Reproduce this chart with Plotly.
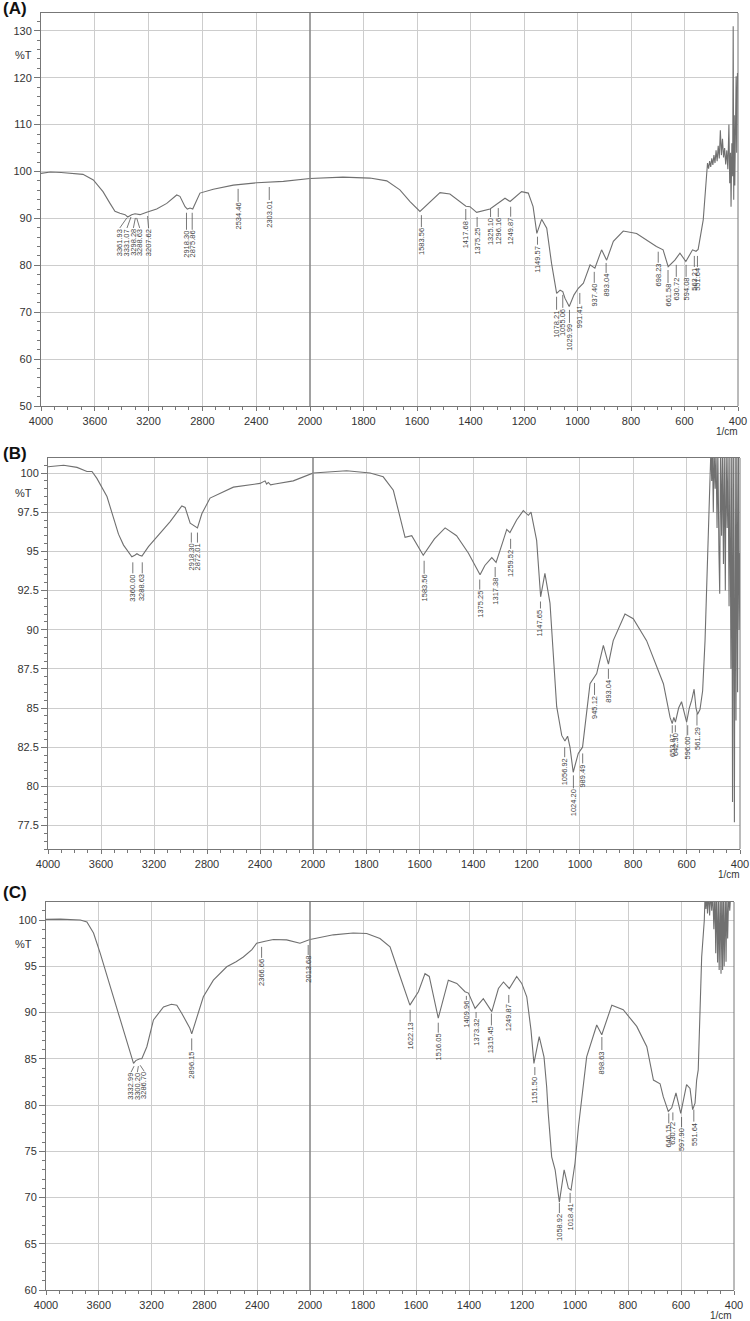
import plotly.graph_objects as go

# ---------------- spectra (wavenumber in 1/cm, %T) ----------------
A_wn = [4000, 3930, 3850, 3760, 3688, 3611, 3539, 3487, 3450, 3413, 3375, 3355, 3326, 3301, 3264,
        3214, 3140, 3065, 2991, 2967, 2929, 2912, 2892, 2872, 2848, 2818, 2719, 2570, 2396, 2198, 2000,
        1877, 1776, 1713, 1664, 1626, 1589, 1558, 1514, 1477, 1427, 1417, 1402, 1377, 1327, 1296, 1271,
        1252, 1209, 1184, 1166, 1152, 1134, 1115, 1097, 1078, 1065, 1055, 1047, 1031, 1013, 997, 978,
        953, 935, 910, 891, 866, 829, 779, 705, 680, 661, 636, 617, 595, 570, 557, 549, 530, 522, 518,
        514, 510, 506, 502, 498, 494, 490, 486, 482, 478, 474, 470, 466, 462, 458, 454, 450, 446, 442,
        438, 434, 431, 428, 426, 423, 420, 418, 416, 414, 412, 410, 407, 405, 402, 400]
A_T = [99.6, 99.9, 99.8, 99.6, 99.4, 98.2, 95.7, 93.2, 91.5, 91.1, 90.8, 90.3, 90.8, 91.0, 90.8,
       91.3, 92.0, 93.2, 95.0, 94.7, 92.5, 92.0, 92.2, 92.0, 93.6, 95.4, 96.2, 97.1, 97.6, 97.9, 98.5,
       98.8, 98.6, 98.0, 96.1, 93.6, 91.5, 93.2, 95.5, 95.2, 92.9, 92.6, 92.5, 91.3, 92.0, 93.2, 94.3,
       93.6, 95.7, 95.4, 92.5, 86.8, 89.8, 87.9, 80.4, 74.0, 74.7, 74.4, 73.0, 71.2, 73.7, 75.1, 76.2,
       80.1, 79.4, 83.3, 81.1, 85.1, 87.3, 86.8, 84.0, 83.3, 79.7, 81.1, 82.6, 80.8, 83.3, 83.0, 83.4,
       89.7, 96.0, 100.3,
       101.8, 100.6, 102.2, 101.0, 102.8, 101.4, 103.5, 101.8, 104.5, 102.2, 105.5, 102.8, 108.8,
       103.5, 107.0, 103.0, 105.0, 101.5, 104.5, 100.5, 110.0, 97.5, 104.0, 92.5, 106.0, 99.0, 131.0,
       94.0, 112.0, 97.0, 109.0, 120.3, 104.0, 121.0, 120.0]

B_wn = [4000, 3882, 3781, 3706, 3668, 3631, 3555, 3505, 3468, 3430, 3367, 3345, 3329, 3310, 3291,
        3242, 3153, 3078, 2990, 2965, 2927, 2907, 2872, 2839, 2777, 2601, 2400, 2362, 2350, 2337,
        2320, 2287, 2149, 2000,
        1874, 1786, 1737, 1699, 1674, 1655, 1630, 1587, 1545, 1505, 1462, 1418, 1374, 1356, 1330,
        1314, 1287, 1274, 1262, 1237, 1212, 1193, 1183, 1162, 1147, 1131, 1112, 1102, 1087, 1068,
        1056, 1046, 1037, 1025, 1006, 990, 962, 937, 912, 893, 875, 831, 800, 750, 687, 662, 654,
        648, 642, 630, 619, 600, 590, 581, 572, 565, 559, 550, 540, 531, 525, 512,
        509, 506, 503, 500, 497, 493, 490, 486, 483, 479, 476, 473, 469, 466, 462, 459, 455, 452,
        448, 445, 441, 438, 434, 431, 428, 425, 421, 418, 415, 412, 409, 406, 403, 400]
B_T = [100.4, 100.5, 100.36, 100.1, 100.1, 99.66, 98.5, 97.2, 96.1, 95.4, 94.65, 94.75, 94.85, 94.75,
       94.7, 95.3, 96.2, 96.9, 97.9, 97.8, 96.8, 96.7, 96.5, 97.4, 98.4, 99.1, 99.34, 99.5, 99.3,
       99.4, 99.25, 99.3, 99.5, 100.0,
       100.15, 100.0, 99.76, 98.9, 97.2, 95.9, 96.0, 94.75, 95.8, 96.5, 96.0, 94.9, 93.5, 94.1, 94.6,
       94.3, 95.7, 96.4, 96.2, 97.0, 97.6, 97.3, 97.5, 95.7, 92.1, 93.6, 91.7, 88.9, 85.1, 83.25,
       82.9, 83.2, 82.5, 80.9, 82.1, 82.5, 86.55, 87.2, 89.0, 87.8, 89.3, 91.0, 90.7, 89.3, 86.55,
       84.4, 84.0, 84.4, 84.1, 85.0, 85.4, 84.1, 85.0, 85.5, 86.2, 85.0, 84.6, 84.9, 86.1, 89.3,
       92.9, 100.0,
       101.5, 99.5, 101.5, 97.5, 101.5, 99.0, 101.5, 96.5, 101.5, 95.0, 92.3, 101.5, 96.0, 101.5,
       94.2, 101.5, 92.5, 101.5, 96.5, 101.5, 91.5, 101.5, 87.5, 101.5, 79.0, 101.5, 77.7, 101.5,
       84.2, 101.5, 86.0, 101.5, 90.0, 94.9]

C_wn = [4000, 3892, 3740, 3690, 3640, 3589, 3513, 3438, 3387, 3355, 3337, 3320, 3307, 3290, 3274,
        3236, 3186, 3110, 3050, 3009, 2971, 2933, 2910, 2896, 2858, 2808, 2732, 2631, 2560, 2505,
        2440, 2404, 2340, 2278, 2177, 2076, 2000,
        1912, 1837, 1786, 1736, 1698, 1660, 1623, 1591, 1566, 1550, 1535, 1516, 1478, 1446, 1415,
        1402, 1377, 1346, 1314, 1289, 1270, 1248, 1220, 1201, 1182, 1166, 1155, 1135, 1117, 1107,
        1101, 1088, 1075, 1059, 1041, 1025, 1015, 1000, 987, 968, 956, 918, 899, 861, 818, 767, 729,
        704, 679, 667, 648, 635, 619, 601, 579, 566, 556, 547, 541, 535, 522, 512,
        509, 506, 503, 500, 496, 492, 488, 484, 480, 476, 472, 469, 466, 462, 459, 456, 452, 449,
        446, 443, 440, 437, 433, 430, 427, 424, 420, 416, 412, 400]
C_T = [100.07, 100.1, 100.0, 99.8, 98.6, 96.4, 92.8, 89.2, 86.7, 85.3, 84.5, 84.8, 84.9, 85.0, 85.0,
       86.3, 89.2, 90.6, 90.9, 90.8, 89.9, 88.8, 88.3, 87.7, 89.5, 91.7, 93.5, 94.95, 95.5, 96.0,
       96.8, 97.5, 97.7, 97.9, 97.85, 97.5, 97.9,
       98.4, 98.6, 98.55, 98.0, 97.1, 93.9, 90.8, 92.25, 94.2, 93.9, 92.0, 89.4, 93.5, 93.15, 92.25,
       92.1, 90.45, 91.5, 90.1, 92.6, 93.3, 92.6, 93.9, 93.15, 91.7, 88.1, 84.5, 87.4, 85.2, 82.0,
       79.1, 74.4, 73.0, 69.5, 73.0, 71.0, 70.8, 73.7, 77.65, 82.7, 85.2, 88.65, 87.6, 90.8, 90.3,
       88.5, 86.3, 82.7, 82.3, 80.9, 79.3, 79.7, 81.3, 79.1, 82.2, 81.8, 79.5, 80.2, 82.7, 83.8,
       96.0, 100.0,
       103, 101.2, 103, 100.7, 103, 100.5, 103, 101.0, 103, 99.0, 103, 96.4, 103, 95.4, 103, 94.6,
       103, 94.2, 103, 94.6, 103, 95.0, 103, 95.5, 103, 98.0, 103, 101.0, 103, 103]

# ---------------- peak picks ----------------
A_peaks = [3361.93, 3331.07, 3298.28, 3288.63, 3207.62, 2918.30, 2875.86, 2534.46, 2303.01,
           1583.56, 1417.68, 1375.25, 1325.10, 1296.16, 1249.87, 1149.57, 1078.21, 1055.06,
           1029.99, 991.41, 937.40, 893.04, 698.23, 661.58, 630.72, 594.08, 563.21, 551.64]
B_peaks = [3360.00, 3288.63, 2918.30, 2872.01, 1583.56, 1375.25, 1317.38, 1259.52, 1147.65,
           1056.92, 1024.20, 989.49, 945.12, 893.04, 653.87, 642.30, 596.00, 561.29]
C_peaks = [3332.99, 3300.20, 3286.70, 2896.15, 2366.66, 2013.68, 1622.13, 1516.05, 1409.96,
           1373.32, 1315.45, 1249.87, 1151.50, 1058.92, 1018.41, 898.63, 646.15, 630.72, 597.90,
           551.64]

# label placement: (%T at top of leader, leader length px, sideways offset px)
A_marks = [(90.1, 10, -7), (90.3, 11, -4), (90.1, 10, -2), (90.1, 10, 3), (90.5, 12, 1),
           (91.2, 17, 0), (91.2, 17, 0), (96.3, 13, 0), (96.7, 13, 0), (90.7, 12, 0),
           (92.0, 11, 0), (90.3, 10, 0), (92.0, 8, 0), (92.2, 9, 0), (92.5, 10, 0), (86.1, 8, 0),
           (73.3, 13, 0), (73.7, 13, 0), (70.5, 13, 0), (74.1, 11, 0), (78.6, 11, 0),
           (80.5, 10, 0), (82.9, 11, 0), (79.0, 13, 0), (80.1, 12, 0), (80.1, 12, 0),
           (82.0, 11, 0), (82.0, 11, 0)]
B_marks = [(94.3, 11, 0), (94.3, 11, 0), (96.2, 10, 0), (96.2, 10, 0), (94.4, 13, 0),
           (93.2, 10, 0), (94.0, 10, 0), (95.8, 10, 0), (91.8, 7, 0), (82.5, 10, 0),
           (80.7, 13, 0), (82.1, 10, 0), (86.6, 12, 0), (87.5, 10, 0), (83.9, 8, 0),
           (83.9, 7, 0), (83.9, 10, 0), (84.65, 12, 0)]
C_marks = [(84.2, 6, -3), (84.2, 6, -1), (84.3, 6, 4), (87.2, 12, 0), (97.1, 11, 0),
           (97.3, 10, 0), (90.3, 12, 0), (88.9, 10, 0), (91.8, 4, 0), (90.05, 6, 0),
           (89.9, 12, 0), (91.9, 8, 0), (84.1, 8, 0), (69.4, 10, 0), (70.5, 10, 0),
           (87.35, 13, 0), (79.1, 10, 0), (79.2, 8, 0), (78.7, 10, 0), (79.5, 12, 0)]

W, H = 750, 1321
FONT = "Liberation Sans, Arial, sans-serif"
LINE = "#707070"
GRID = "#cdcdcd"
AXIS = "#777777"
TXT = "#333333"

panels = [
    dict(tag="(A)", wn=A_wn, T=A_T, peaks=A_peaks, marks=A_marks,
         px=(41, 310, 738), py=(13, 406), yr=[50, 133.8], dt=10, mdt=2,
         pt_y=55, tag_y=9, unit_xy=(727, 431)),
    dict(tag="(B)", wn=B_wn, T=B_T, peaks=B_peaks, marks=B_marks,
         px=(48, 313, 740), py=(458, 849), yr=[76, 100.96], dt=2.5, mdt=0.5,
         pt_y=493, tag_y=453, unit_xy=(729, 874)),
    dict(tag="(C)", wn=C_wn, T=C_T, peaks=C_peaks, marks=C_marks,
         px=(46, 310, 734), py=(902, 1290), yr=[60, 101.95], dt=5, mdt=1,
         pt_y=944, tag_y=892, unit_xy=(721, 1315.5)),
]

fig = go.Figure()
layout = {}
annotations = []
shapes = []

for i, p in enumerate(panels):
    xl = "x" if i == 0 else f"x{2 * i + 1}"
    xr = f"x{2 * i + 2}"
    yn = "y" if i == 0 else f"y{i + 1}"
    x0, xm, x1 = p["px"]
    ytop, ybot = p["py"]
    ydom = [1 - ybot / H, 1 - ytop / H]

    common_x = dict(showgrid=True, gridcolor=GRID, gridwidth=1, zeroline=False, automargin=False,
                    showline=True, linecolor=AXIS, linewidth=1, mirror=True,
                    ticks="outside", ticklen=4, tickcolor=AXIS, ticklabelstandoff=1,
                    ticklabeloverflow="allow",
                    tickfont=dict(family=FONT, size=11, color=TXT), anchor=yn)
    layout["xaxis" + xl[1:]] = dict(common_x, domain=[x0 / W, xm / W], range=[4000, 2000],
                                    tickmode="array", tickvals=[4000, 3600, 3200, 2800, 2400],
                                    minor=dict(tick0=0, dtick=100, ticks="outside", ticklen=3,
                                               tickcolor=AXIS, showgrid=False))
    layout["xaxis" + xr[1:]] = dict(common_x, domain=[xm / W, x1 / W], range=[2000, 400],
                                    tick0=400, dtick=200,
                                    minor=dict(tick0=0, dtick=50, ticks="outside", ticklen=3,
                                               tickcolor=AXIS, showgrid=False))
    layout["yaxis" + yn[1:]] = dict(domain=ydom, range=p["yr"], anchor=xl, dtick=p["dt"],
                                    showgrid=True, gridcolor=GRID, gridwidth=1, zeroline=False,
                                    automargin=False, showline=True, linecolor=AXIS, linewidth=1,
                                    ticks="outside", ticklen=6, tickcolor=AXIS,
                                    ticklabeloverflow="allow",
                                    tickfont=dict(family=FONT, size=11, color=TXT),
                                    minor=dict(dtick=p["mdt"], ticks="outside", ticklen=3.5,
                                               tickcolor=AXIS, showgrid=False))

    # spectrum split at 2000 1/cm (the scale changes there)
    left = [(w, t) for w, t in zip(p["wn"], p["T"]) if w >= 2000]
    right = [(w, t) for w, t in zip(p["wn"], p["T"]) if w <= 2000]
    for pts, xa in ((left, xl), (right, xr)):
        fig.add_trace(go.Scatter(x=[a for a, _ in pts], y=[b for _, b in pts], mode="lines",
                                 line=dict(color=LINE, width=1.1), xaxis=xa, yaxis=yn,
                                 showlegend=False, hoverinfo="skip"))

    # darker 2000 line and right frame
    shapes.append(dict(type="line", xref="paper", yref="paper", x0=xm / W, x1=xm / W,
                       y0=ydom[0], y1=ydom[1], line=dict(color="#8a8a8a", width=1.6)))
    shapes.append(dict(type="line", xref="paper", yref="paper", x0=x1 / W, x1=x1 / W,
                       y0=ydom[0], y1=ydom[1], line=dict(color=AXIS, width=1)))

    # peak labels: leader line + rotated value
    for w, (ty, ln, dx) in zip(p["peaks"], p["marks"]):
        xa = xl if w >= 2000 else xr
        shapes.append(dict(type="line", xref=xa, yref=yn, xsizemode="pixel", ysizemode="pixel",
                           xanchor=w, yanchor=ty, x0=0, x1=dx, y0=0, y1=-ln,
                           line=dict(color="#555555", width=0.8)))
        annotations.append(dict(x=w, y=ty, xref=xa, yref=yn, xshift=dx, yshift=-ln,
                                text=f"{w:.2f}", textangle=-90, showarrow=False,
                                xanchor="center", yanchor="top", borderpad=0,
                                font=dict(family=FONT, size=7.5, color="#444444")))

    annotations.append(dict(x=1 / W, y=1 - p["tag_y"] / H, xref="paper", yref="paper",
                            text="<b>" + p["tag"] + "</b>", showarrow=False, xanchor="left",
                            yanchor="middle", font=dict(family=FONT, size=17, color="#111111")))
    annotations.append(dict(x=23 / W, y=1 - p["pt_y"] / H, xref="paper", yref="paper",
                            text="%T", showarrow=False, xanchor="center", yanchor="middle",
                            font=dict(family=FONT, size=11, color=TXT)))
    ux, uy = p["unit_xy"]
    annotations.append(dict(x=ux / W, y=1 - uy / H, xref="paper", yref="paper",
                            text="1/cm", showarrow=False, xanchor="center", yanchor="middle",
                            font=dict(family=FONT, size=10, color=TXT)))

fig.update_layout(template="none", width=W, height=H, autosize=False,
                  margin=dict(l=0, r=0, t=0, b=0, pad=0),
                  paper_bgcolor="white", plot_bgcolor="white", showlegend=False,
                  annotations=annotations, shapes=shapes, **layout)

# the page's default body margin would push the fixed-size figure off the window
fig.write_html("out.html", config={"displayModeBar": False},
               post_script="document.body.style.margin='0';")
